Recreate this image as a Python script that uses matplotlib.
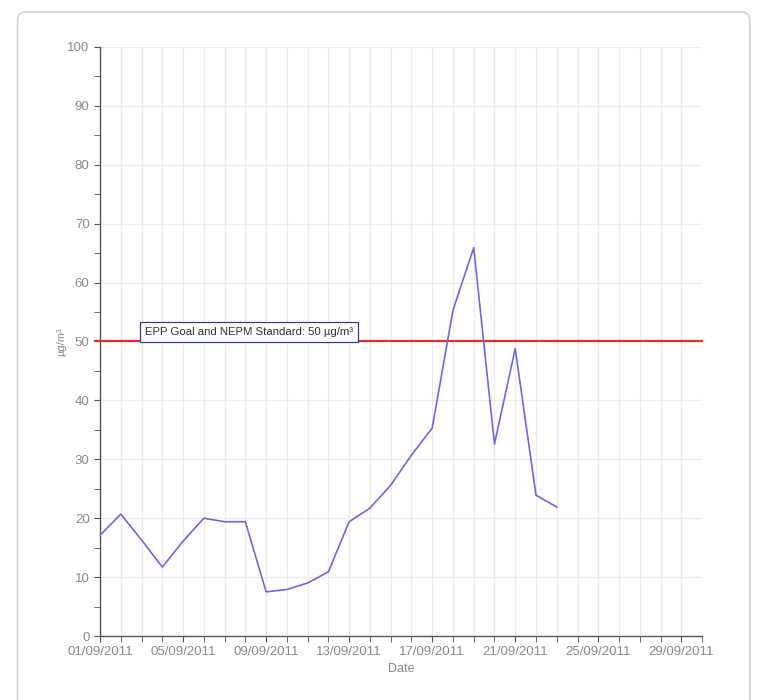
import matplotlib
matplotlib.use("Agg")
import matplotlib.pyplot as plt
import matplotlib.dates as mdates
from matplotlib.patches import FancyBboxPatch
import pandas as pd

matplotlib.rcParams['font.family'] = ["Liberation Sans", "DejaVu Sans"]
matplotlib.rcParams['font.size'] = 9

dates = ["2011-09-01", "2011-09-02", "2011-09-03", "2011-09-04", "2011-09-05",
         "2011-09-06", "2011-09-07", "2011-09-08", "2011-09-09", "2011-09-10",
         "2011-09-11", "2011-09-12", "2011-09-13", "2011-09-14", "2011-09-15",
         "2011-09-16", "2011-09-17", "2011-09-18", "2011-09-19", "2011-09-20",
         "2011-09-21", "2011-09-22", "2011-09-23"]
pm10 = [17.1, 20.7, 16.3, 11.7, 16.1, 20.0, 19.4, 19.4, 7.5, 7.9,
        9.0, 10.9, 19.4, 21.7, 25.6, 30.7, 35.3, 55.3, 65.9, 32.6,
        48.8, 23.9, 21.9]
standard = 50
standard_label = "EPP Goal and NEPM Standard: 50 µg/m³"
label_days = [1, 5, 9, 13, 17, 21, 25, 29]

GREY_TEXT = "#8a8a8a"
LINE_BLUE = "#6b6bdc"
RED = "#e03030"

x = pd.to_datetime(dates)
x_start = pd.Timestamp("2011-09-01")
x_end = pd.Timestamp("2011-09-30")

fig = plt.figure(figsize=(7.59, 7.0), dpi=100)
ax = fig.add_axes([0.1318, 0.0914, 0.7932, 0.8416])

# rounded frame around the chart
frame = FancyBboxPatch((0.023, -0.05), 0.965, 1.033, boxstyle="round,pad=0,rounding_size=0.012",
                       transform=fig.transFigure, facecolor="none", edgecolor="#d4d4d4",
                       linewidth=1.2, clip_on=False)
fig.patches.append(frame)

ax.plot(x, pm10, color=LINE_BLUE, linewidth=1.2, zorder=3)
ax.axhline(standard, color=RED, linewidth=1.6, zorder=2, xmin=-0.008, clip_on=False)

ax.text(pd.Timestamp("2011-09-03 04:00"), standard + 0.8, standard_label, fontsize=8.2, color="#333333",
        ha="left", va="bottom", zorder=4,
        bbox=dict(boxstyle="square,pad=0.42", facecolor="white", edgecolor="#3a3a8a", linewidth=0.9))

ax.set_xlim(x_start, x_end)
ax.set_ylim(0, 100)

ax.xaxis.set_major_locator(mdates.DayLocator(bymonthday=label_days))
ax.xaxis.set_major_formatter(mdates.DateFormatter("%d/%m/%Y"))
ax.xaxis.set_minor_locator(mdates.DayLocator())
ax.yaxis.set_major_locator(plt.MultipleLocator(10))
ax.yaxis.set_minor_locator(plt.MultipleLocator(5))

ax.grid(True, which="minor", axis="x", color="#ececec", linewidth=0.9)
ax.grid(True, which="major", axis="x", color="#ececec", linewidth=0.9)
ax.grid(True, which="major", axis="y", color="#ececec", linewidth=0.9)
ax.set_axisbelow(True)

for side in ["top", "right"]:
    ax.spines[side].set_visible(False)
for side in ["left", "bottom"]:
    ax.spines[side].set_color("#555555")
    ax.spines[side].set_linewidth(1.0)

ax.tick_params(which="both", direction="out", colors="#555555", labelcolor=GREY_TEXT, labelsize=9.5, length=4)
ax.tick_params(axis="x", which="major", pad=3)

ax.set_xlabel("Date", color=GREY_TEXT, fontsize=9, labelpad=4)
ax.set_ylabel("µg/m³", color=GREY_TEXT, fontsize=8, labelpad=1)

plt.savefig("out.png", dpi=100)
